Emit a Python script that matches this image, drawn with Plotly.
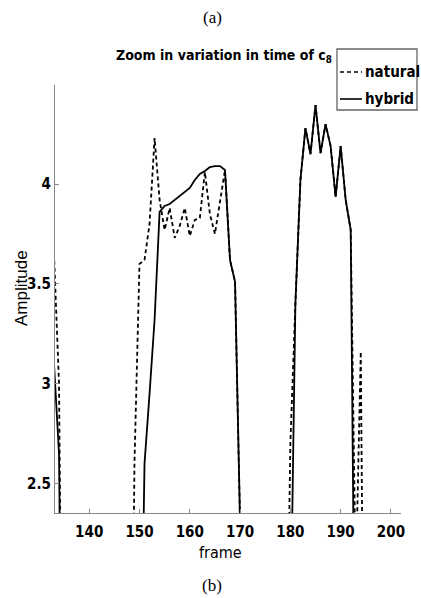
import plotly.graph_objects as go

frames = list(range(133, 203))

natural = [
    3.65, 3.0, 0, 0, 0, 0, 0, 0, 0, 0,            # 133-142
    0, 0, 0, 0, 0, 0, 2.6, 3.6, 3.62, 3.80,       # 143-152
    4.23, 3.92, 3.77, 3.88, 3.73, 3.79, 3.88, 3.74, 3.82, 3.83,  # 153-162
    4.06, 3.85, 3.75, 3.92, 4.07, 3.62, 3.51, 2.3, 0, 0,         # 163-172
    0, 0, 0, 0, 0, 0, 1.0, 2.7, 3.4, 4.02,        # 173-182
    4.28, 4.15, 4.395, 4.155, 4.30, 4.19, 3.935, 4.19, 3.92, 3.77,  # 183-192
    2.0, 3.16, 0, 0, 0, 0, 0, 0, 0, 0,            # 193-202
]

hybrid = [
    3.1, 2.65, 0, 0, 0, 0, 0, 0, 0, 0,            # 133-142
    0, 0, 0, 0, 0, 0, 0, 1.0, 2.6, 2.95,          # 143-152
    3.32, 3.86, 3.89, 3.90, 3.92, 3.94, 3.96, 3.98, 4.02, 4.05,  # 153-162
    4.065, 4.085, 4.09, 4.09, 4.07, 3.62, 3.51, 2.3, 0, 0,       # 163-172
    0, 0, 0, 0, 0, 0, 0, 1.69, 3.4, 4.02,         # 173-182
    4.28, 4.15, 4.395, 4.155, 4.30, 4.19, 3.935, 4.19, 3.92, 3.77,  # 183-192
    1.0, 0, 0, 0, 0, 0, 0, 0, 0, 0,               # 193-202
]

series_names = ["natural", "hybrid"]
series_dash = ["4px,3px", "solid"]
x_ticks = [140, 150, 160, 170, 180, 190, 200]
y_ticks = [2.5, 3, 3.5, 4]
y_ticklabels = ["2.5", "3", "3.5", "4"]

narrow = "DejaVu Sans Condensed, Liberation Sans Narrow, Liberation Sans, sans-serif"
sans = "Liberation Sans, Arial, sans-serif"
serif = "Liberation Serif, Times New Roman, serif"

W, H = 421, 598
L, R, T, B = 55, 20, 85, 85
pw, ph = W - L - R, H - T - B


def px(xp):
    return (xp - L) / pw


def py(yp):
    return (H - B - yp) / ph


fig = go.Figure()
for name, vals, dash in zip(series_names, [natural, hybrid], series_dash):
    fig.add_trace(go.Scatter(x=frames, y=vals, mode="lines", name=name,
                             showlegend=False,
                             line=dict(color="black", width=1.8, dash=dash)))

# legend drawn by hand (line samples, labels, then box)
shapes = []
annotations = []
for i, (name, dash) in enumerate(zip(series_names, series_dash)):
    ly = 72 + i * 27
    shapes.append(dict(type="line", xref="paper", yref="paper",
                       x0=px(340), x1=px(362), y0=py(ly), y1=py(ly),
                       line=dict(color="black", width=1.6, dash=dash), layer="above"))
    annotations.append(dict(text=name, xref="paper", yref="paper",
                            x=px(363), y=py(ly), xanchor="left", yanchor="middle",
                            showarrow=False,
                            font=dict(family=narrow, size=15, color="black", weight="bold")))

bx0, bx1, by0, by1 = 337, 417, 49, 110
box_path = "M {a},{b} L {c},{b} L {c},{d} L {a},{d} Z".format(
    a=px(bx0), b=py(by0), c=px(bx1), d=py(by1))
shapes.append(dict(type="path", xref="paper", yref="paper", path=box_path,
                   line=dict(color="#666666", width=1.3, dash="solid"),
                   layer="above"))

annotations += [
    dict(text="(a)", xref="paper", yref="paper", x=px(212), y=py(17),
         xanchor="center", yanchor="middle",
         showarrow=False, font=dict(family=serif, size=17, color="black")),
    dict(text="(b)", xref="paper", yref="paper", x=px(212), y=py(585),
         xanchor="center", yanchor="middle",
         showarrow=False, font=dict(family=serif, size=17, color="black")),
    dict(text="frame", xref="paper", yref="paper", x=px(220), y=py(552),
         xanchor="center", yanchor="middle",
         showarrow=False, font=dict(family=narrow, size=16, color="black")),
    dict(text="Amplitude", xref="paper", yref="paper", x=px(21), y=py(288),
         xanchor="center", yanchor="middle", textangle=-90,
         showarrow=False, font=dict(family=sans, size=17, color="black")),
]

fig.update_layout(
    width=W, height=H,
    margin=dict(l=L, r=R, t=T, b=B, autoexpand=False),
    plot_bgcolor="white", paper_bgcolor="white",
    showlegend=False,
    title=dict(text="Zoom in variation in time of c<sub>8</sub>",
               x=px(224), xref="paper", xanchor="center",
               y=1 - 55/H, yanchor="middle",
               font=dict(family=narrow, size=14, color="black", weight="bold")),
    xaxis=dict(range=[133.2, 202], tickvals=x_ticks, ticks="inside", ticklen=4,
               tickcolor="#888888", showline=True, linecolor="#888888", linewidth=1,
               showgrid=False, zeroline=False, ticklabelstandoff=5,
               tickfont=dict(family=narrow, size=15, color="black", weight="bold")),
    yaxis=dict(range=[2.352, 4.496], tickvals=y_ticks, ticktext=y_ticklabels,
               ticks="inside", ticklen=4,
               tickcolor="#888888", showline=True, linecolor="#888888", linewidth=1,
               showgrid=False, zeroline=False,
               tickfont=dict(family=narrow, size=15, color="black", weight="bold")),
    shapes=shapes,
    annotations=annotations,
)

fig.write_html("out.html")
